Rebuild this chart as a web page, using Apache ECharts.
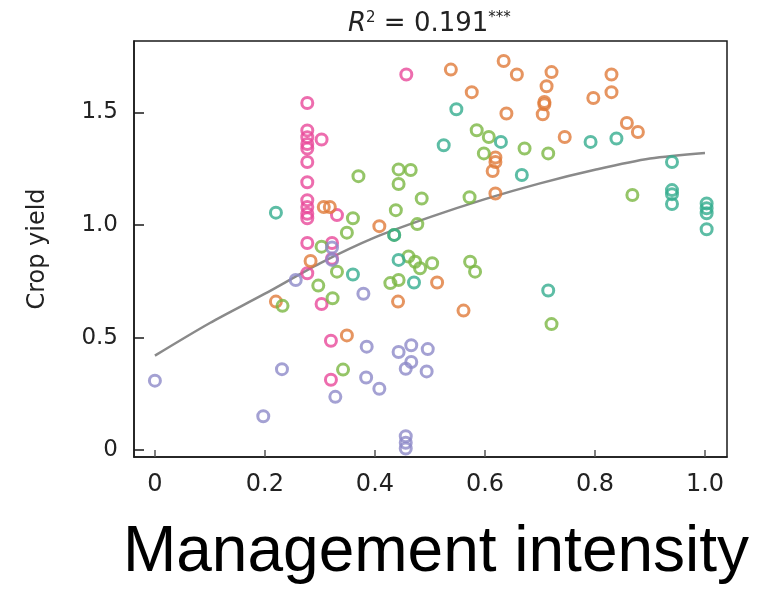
<!DOCTYPE html>
<html>
<head>
<meta charset="utf-8">
<script src="https://cdn.jsdelivr.net/npm/echarts@6/dist/echarts.min.js"></script>
<style>
  html, body { margin: 0; padding: 0; background: #fff; }
  #chart { width: 777px; height: 590px; }
</style>
</head>
<body>
<div id="chart"></div>
<script>
// values, [management intensity, crop yield]
const pinkPts = [
  [0.277, 1.542], [0.277, 1.42], [0.277, 1.39], [0.277, 1.36], [0.277, 1.34],
  [0.277, 1.28], [0.277, 1.19], [0.277, 1.11], [0.277, 1.08], [0.277, 1.05],
  [0.277, 1.03], [0.277, 0.92], [0.277, 0.786], [0.303, 1.38], [0.331, 1.044],
  [0.303, 0.649], [0.32, 0.486], [0.32, 0.313], [0.322, 0.92], [0.322, 0.85],
  [0.457, 1.668]
]
const orangePts = [
  [0.307, 1.08], [0.318, 1.08], [0.283, 0.84], [0.22, 0.66], [0.349, 0.51],
  [0.408, 0.995], [0.442, 0.66], [0.513, 0.745], [0.561, 0.62], [0.538, 1.69],
  [0.634, 1.728], [0.658, 1.668], [0.576, 1.59], [0.639, 1.495], [0.619, 1.30],
  [0.619, 1.28], [0.614, 1.24], [0.619, 1.14], [0.721, 1.679], [0.712, 1.616],
  [0.708, 1.546], [0.708, 1.536], [0.705, 1.492], [0.83, 1.668], [0.83, 1.59],
  [0.797, 1.564], [0.745, 1.391], [0.858, 1.453], [0.878, 1.413]
]
const greenPts = [
  [0.37, 1.217], [0.443, 1.247], [0.465, 1.244], [0.443, 1.182], [0.485, 1.118],
  [0.572, 1.123], [0.438, 1.066], [0.36, 1.03], [0.349, 0.966], [0.477, 1.004],
  [0.435, 0.956], [0.303, 0.904], [0.331, 0.793], [0.297, 0.731], [0.323, 0.675],
  [0.232, 0.641], [0.342, 0.358], [0.461, 0.86], [0.473, 0.837], [0.482, 0.808],
  [0.504, 0.83], [0.573, 0.837], [0.582, 0.793], [0.428, 0.742], [0.443, 0.756],
  [0.585, 1.421], [0.607, 1.391], [0.598, 1.318], [0.672, 1.34], [0.715, 1.318],
  [0.868, 1.133], [0.721, 0.56]
]
const tealPts = [
  [0.22, 1.055], [0.36, 0.78], [0.443, 0.845], [0.471, 0.745], [0.435, 0.956],
  [0.548, 1.514], [0.525, 1.354], [0.629, 1.369], [0.667, 1.222], [0.792, 1.369],
  [0.839, 1.384], [0.94, 1.28], [0.94, 1.155], [0.94, 1.137], [0.94, 1.093],
  [1.003, 1.096], [1.003, 1.074], [1.003, 1.052], [1.003, 0.981], [0.715, 0.709]
]
const purplePts = [
  [0, 0.309], [0.197, 0.151], [0.231, 0.36], [0.256, 0.756], [0.322, 0.90],
  [0.322, 0.845], [0.328, 0.237], [0.379, 0.695], [0.385, 0.46], [0.384, 0.323],
  [0.408, 0.273], [0.443, 0.436], [0.466, 0.466], [0.496, 0.449], [0.456, 0.362],
  [0.466, 0.392], [0.494, 0.35], [0.456, 0.062], [0.456, 0.033], [0.456, 0.008]
]
// fitted curve
const fitX = [0, 0.1, 0.2, 0.3, 0.4, 0.5, 0.6, 0.7, 0.8, 0.9, 1.0]
const fitY = [0.42, 0.565, 0.695, 0.83, 0.945, 1.035, 1.115, 1.185, 1.245, 1.295, 1.32]

const xTicks = [0, 0.2, 0.4, 0.6, 0.8, 1.0]
const yTicks = [0, 0.5, 1.0, 1.5]

const groups = [
  { pts: pinkPts, color: '#e8489a' },
  { pts: orangePts, color: '#e07b39' },
  { pts: greenPts, color: '#7bb642' },
  { pts: tealPts, color: '#35ac8f' },
  { pts: purplePts, color: '#8d89c8' }
]

const chart = echarts.init(document.getElementById('chart'))

const scatterSeries = groups.map(g => ({
  type: 'scatter',
  data: g.pts,
  symbol: 'circle',
  symbolSize: 11,
  itemStyle: { color: 'rgba(255,255,255,0)', borderColor: g.color, borderWidth: 3 },
  z: 3
}))

const tickFmt = v => v === 0 ? '0' : v.toFixed(1)

chart.setOption({
  backgroundColor: '#ffffff',
  animation: false,
  title: {
    left: 343,
    top: 6,
    text: '{r|R}{s|2}{t| = 0.191}{s|***}',
    textStyle: {
      fontWeight: 'normal',
      rich: {
        r: { fontFamily: 'DejaVu Sans', fontStyle: 'italic', fontWeight: 'normal', fontSize: 26, color: '#222' },
        s: { fontFamily: 'DejaVu Sans', fontWeight: 'normal', fontSize: 15, color: '#222', verticalAlign: 'top' },
        t: { fontFamily: 'DejaVu Sans', fontWeight: 'normal', fontSize: 26, color: '#222' }
      }
    }
  },
  grid: {
    left: 134, right: 50, top: 41, bottom: 133,
    show: true, borderColor: '#1a1a1a', borderWidth: 1.5
  },
  xAxis: {
    type: 'value',
    min: -0.038,
    max: 1.04,
    name: 'Management intensity',
    nameLocation: 'middle',
    nameGap: 64,
    nameTextStyle: { fontFamily: 'Liberation Sans', fontSize: 64, color: '#000', padding: [0, 0, 0, 11] },
    axisLine: { show: true, onZero: false, lineStyle: { color: '#1a1a1a', width: 1.5 } },
    axisTick: { show: true, inside: true, length: 7, customValues: xTicks, lineStyle: { color: '#555', width: 1.5 } },
    axisLabel: {
      customValues: xTicks, margin: 16,
      fontFamily: 'DejaVu Sans', fontSize: 24, color: '#222',
      formatter: tickFmt
    },
    splitLine: { show: false }
  },
  yAxis: {
    type: 'value',
    min: -0.03,
    max: 1.817,
    name: 'Crop yield',
    nameLocation: 'middle',
    nameGap: 84,
    nameTextStyle: { fontFamily: 'DejaVu Sans', fontSize: 24, color: '#222' },
    axisLine: { show: true, onZero: false, lineStyle: { color: '#1a1a1a', width: 1.5 } },
    axisTick: { show: true, inside: true, length: 10, customValues: yTicks, lineStyle: { color: '#1a1a1a', width: 1.5 } },
    axisLabel: {
      customValues: yTicks, margin: 16,
      fontFamily: 'DejaVu Sans', fontSize: 23, color: '#222',
      formatter: tickFmt
    },
    splitLine: { show: false }
  },
  series: [
    {
      type: 'line',
      data: fitX.map((x, i) => [x, fitY[i]]),
      smooth: 0.3,
      showSymbol: false,
      lineStyle: { color: '#8a8a8a', width: 2.5 },
      z: 2
    },
    ...scatterSeries
  ]
})
</script>
</body>
</html>
